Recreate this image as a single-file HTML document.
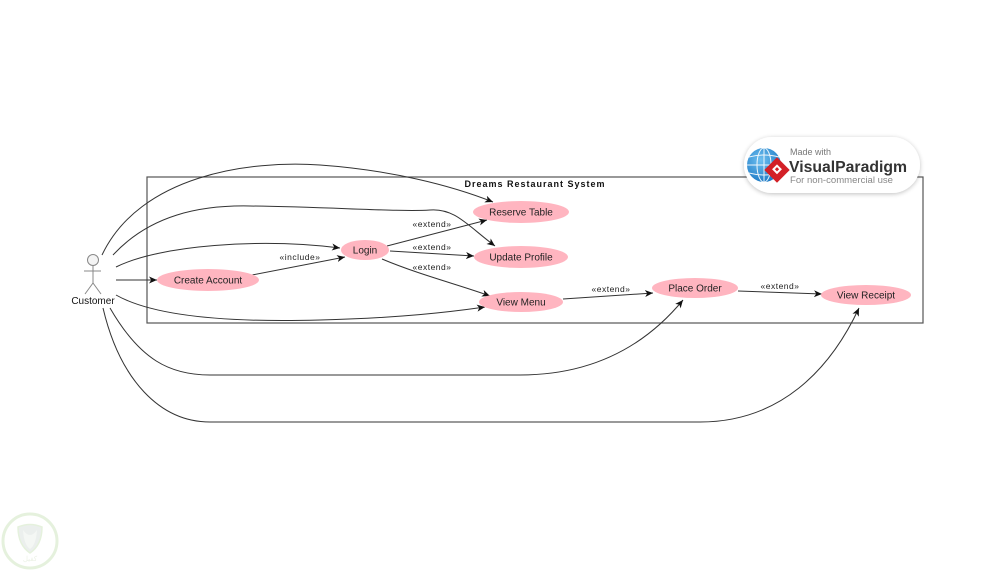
<!DOCTYPE html>
<html>
<head>
<meta charset="utf-8">
<style>
  html,body{margin:0;padding:0;background:#fff;}
  svg{display:block;}
  text{font-family:"Liberation Sans", Arial, sans-serif;}
</style>
</head>
<body>
<svg width="1000" height="571" viewBox="0 0 1000 571" xmlns="http://www.w3.org/2000/svg">
  <defs>
    <marker id="ah" markerWidth="10" markerHeight="8" refX="8" refY="3.5" orient="auto" markerUnits="userSpaceOnUse">
      <path d="M0,0 L8,3.5 L0,7 L2.2,3.5 z" fill="#111"/>
    </marker>
    <filter id="sh" x="-20%" y="-40%" width="140%" height="180%">
      <feGaussianBlur in="SourceAlpha" stdDeviation="2.5"/>
      <feOffset dx="0" dy="1" result="b"/>
      <feComponentTransfer><feFuncA type="linear" slope="0.25"/></feComponentTransfer>
      <feMerge><feMergeNode/><feMergeNode in="SourceGraphic"/></feMerge>
    </filter>
    <radialGradient id="gl" cx="40%" cy="35%" r="70%">
      <stop offset="0" stop-color="#6fc0f0"/>
      <stop offset="1" stop-color="#1b78c4"/>
    </radialGradient>
  </defs>

  <!-- System boundary -->
  <rect x="147" y="177" width="776" height="146" fill="none" stroke="#555" stroke-width="1.2"/>
  <text x="535" y="187" text-anchor="middle" font-size="9" font-weight="bold" letter-spacing="1" fill="#111">Dreams Restaurant System</text>

  <!-- Connectors -->
  <g fill="none" stroke="#333" stroke-width="1">
    <!-- Customer -> Reserve Table -->
    <path d="M102,255 C140,175 250,160 320,165 C390,170 450,185 493,202" marker-end="url(#ah)"/>
    <!-- Customer -> Update Profile -->
    <path d="M113,255 C150,215 200,205 250,206 C330,207 400,212 430,210 C455,208 468,226 495,246" marker-end="url(#ah)"/>
    <!-- Customer -> Login -->
    <path d="M116,267 C160,245 260,238 340,248" marker-end="url(#ah)"/>
    <!-- Customer -> Create Account -->
    <path d="M116,280 L157,280" marker-end="url(#ah)"/>
    <!-- Create Account -> Login include -->
    <path d="M252,275 L345,257" marker-end="url(#ah)"/>
    <!-- Customer -> View Menu -->
    <path d="M116,295 C160,320 250,322 320,320 C400,318 450,312 485,307" marker-end="url(#ah)"/>
    <!-- Login -> Reserve Table -->
    <path d="M387,246 L487,220" marker-end="url(#ah)"/>
    <!-- Login -> Update Profile -->
    <path d="M390,251 L474,256" marker-end="url(#ah)"/>
    <!-- Login -> View Menu -->
    <path d="M382,259 C420,275 460,285 490,296" marker-end="url(#ah)"/>
    <!-- View Menu -> Place Order -->
    <path d="M563,299 L653,293" marker-end="url(#ah)"/>
    <!-- Place Order -> View Receipt -->
    <path d="M738,291 L822,294" marker-end="url(#ah)"/>
    <!-- Customer -> Place Order -->
    <path d="M110,308 C140,360 170,375 210,375 L520,375 C600,375 650,340 683,300" marker-end="url(#ah)"/>
    <!-- Customer -> View Receipt -->
    <path d="M103,308 C120,380 160,422 210,422 L700,422 C780,422 830,370 859,308" marker-end="url(#ah)"/>
  </g>

  <!-- Stereotype labels -->
  <g font-size="8.5" fill="#222" text-anchor="middle" letter-spacing="0.5">
    <text x="300" y="260">«include»</text>
    <text x="432" y="227">«extend»</text>
    <text x="432" y="250">«extend»</text>
    <text x="432" y="270">«extend»</text>
    <text x="611" y="292">«extend»</text>
    <text x="780" y="289">«extend»</text>
  </g>

  <!-- Use cases -->
  <g fill="#ffb5c0">
    <ellipse cx="208" cy="280" rx="51" ry="11"/>
    <ellipse cx="365" cy="250" rx="24" ry="10"/>
    <ellipse cx="521" cy="212" rx="48" ry="11"/>
    <ellipse cx="521" cy="257" rx="47" ry="11"/>
    <ellipse cx="521" cy="302" rx="42" ry="10"/>
    <ellipse cx="695" cy="288" rx="43" ry="10"/>
    <ellipse cx="866" cy="295" rx="45" ry="10"/>
  </g>
  <g font-size="10" fill="#222" text-anchor="middle">
    <text x="208" y="283.5">Create Account</text>
    <text x="365" y="253.5">Login</text>
    <text x="521" y="215.5">Reserve Table</text>
    <text x="521" y="260.5">Update Profile</text>
    <text x="521" y="305.5">View Menu</text>
    <text x="695" y="291.5">Place Order</text>
    <text x="866" y="298.5">View Receipt</text>
  </g>

  <!-- Actor -->
  <g stroke="#888" stroke-width="1" fill="none">
    <circle cx="93" cy="260" r="5.5" fill="#f4f4f4"/>
    <line x1="93" y1="265.5" x2="93" y2="283"/>
    <line x1="84" y1="271" x2="101" y2="271"/>
    <line x1="93" y1="283" x2="85" y2="294"/>
    <line x1="93" y1="283" x2="101" y2="294"/>
  </g>
  <text x="93" y="304" text-anchor="middle" font-size="10" fill="#111">Customer</text>

  <!-- Visual Paradigm badge -->
  <rect x="744" y="137" width="176" height="56" rx="28" ry="28" fill="#fff" filter="url(#sh)"/>
  <g>
    <circle cx="764" cy="165" r="17" fill="url(#gl)"/>
    <g stroke="#fff" stroke-width="1" fill="none" opacity="0.9">
      <ellipse cx="764" cy="165" rx="7" ry="17"/>
      <line x1="764" y1="148" x2="764" y2="182"/>
      <line x1="747" y1="165" x2="781" y2="165"/>
      <path d="M749,157 Q764,153 779,157"/>
      <path d="M749,173 Q764,177 779,173"/>
    </g>
    <g transform="translate(777,170) rotate(45)">
      <rect x="-9" y="-9" width="18" height="18" fill="#d32027"/>
      <rect x="-4" y="-4" width="7" height="7" fill="#fff"/>
      <rect x="-2" y="-2" width="3" height="3" fill="#d32027"/>
    </g>
  </g>
  <text x="790" y="155" font-size="9" fill="#777">Made with</text>
  <text x="789" y="172" font-size="16" font-weight="bold" fill="#333" textLength="118" lengthAdjust="spacingAndGlyphs">VisualParadigm</text>
  <text x="790" y="183" font-size="9" fill="#888" textLength="103" lengthAdjust="spacingAndGlyphs">For non-commercial use</text>

  <!-- Watermark bottom-left -->
  <g opacity="0.6">
    <circle cx="30" cy="541" r="27" fill="none" stroke="#d5e8c8" stroke-width="3"/>
    <path d="M18,527 Q30,522 42,527 Q42,545 30,553 Q18,545 18,527 z" fill="#dfe6e2" stroke="#d5e8c8" stroke-width="1.5"/>
    <path d="M23,530 Q30,540 37,530 Q36,545 30,549 Q24,545 23,530 z" fill="#eef3ee"/>
    <text x="30" y="561" text-anchor="middle" font-size="7" fill="#dfe9d6" font-family="'Liberation Sans', 'Noto Sans CJK SC', sans-serif">كفيل</text>
  </g>
</svg>
</body>
</html>
